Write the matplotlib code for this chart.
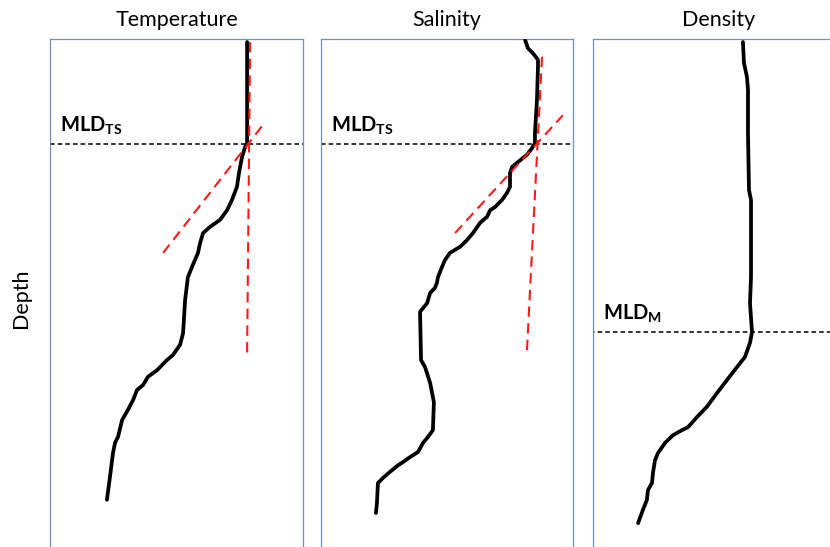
import numpy as np
from matplotlib import pyplot as plt

# profile values on a 0-100 x scale, depth on a 0-100 scale (0 = surface)
temp_x = [77.9, 77.9, 77.1, 75.9, 74.7, 73.9, 71.9, 70.0, 67.2, 63.2, 60.5,
          59.3, 58.5, 57.3, 56.1, 54.5, 53.4, 52.6, 51.4, 48.6, 46.2, 42.3,
          38.7, 36.8, 34.4, 32.8, 30.8, 28.5, 26.9, 25.7, 24.9, 23.7, 22.5]
temp_z = [0.6, 20.5, 21.3, 23.2, 26.4, 29.1, 31.7, 33.7, 35.6, 37.0, 38.2,
          40.2, 42.1, 43.5, 44.9, 46.9, 51.4, 57.9, 60.2, 62.2, 63.2, 65.2,
          66.5, 68.1, 69.1, 71.1, 73.0, 75.0, 78.3, 79.5, 81.5, 86.2, 90.7]

sal_x = [81.0, 82.1, 84.1, 86.1, 86.1, 85.7, 84.9, 84.9, 83.7, 81.7, 78.2,
         75.8, 75.0, 75.0, 73.8, 71.8, 69.0, 67.1, 65.9, 63.1, 60.3, 57.9,
         55.2, 51.2, 49.2, 48.0, 46.4, 46.0, 45.2, 43.3, 42.1, 39.3, 39.7,
         41.3, 43.3, 44.8, 44.4, 42.5, 40.5, 38.5, 35.3, 32.5, 30.6, 27.4,
         24.6, 22.6, 22.2, 21.8]
sal_z = [0.2, 1.8, 2.8, 4.1, 5.5, 12.0, 18.5, 20.5, 21.5, 22.8, 24.2,
         25.2, 26.4, 29.1, 30.3, 31.7, 33.1, 33.7, 35.0, 36.2, 38.2, 39.6,
         40.9, 42.1, 43.5, 44.9, 46.9, 48.0, 49.0, 50.0, 52.0, 53.7, 63.2,
         64.6, 67.7, 71.5, 77.0, 78.3, 79.5, 81.3, 82.3, 83.3, 83.9, 85.2,
         86.4, 87.4, 91.3, 93.3]

dens_x = [59.5, 59.9, 61.1, 61.5, 61.5, 61.9, 62.7, 62.7, 62.3, 63.1, 62.3,
          60.3, 57.1, 53.2, 49.2, 45.2, 41.3, 37.7, 35.3, 31.7, 28.6, 25.8,
          24.6, 23.8, 23.4, 21.8, 21.4, 19.8, 17.9]
dens_z = [0.6, 4.7, 7.5, 10.0, 18.5, 29.7, 31.7, 46.9, 52.0, 57.7, 59.8,
          62.6, 64.6, 67.1, 69.7, 72.4, 74.4, 76.4, 77.0, 78.0, 79.5, 81.5,
          82.9, 85.4, 87.4, 88.8, 90.7, 92.7, 95.3]

# fitted gradient lines (x0, x1), (z0, z1)
temp_fit_mixed = ([79.1, 77.9], [0.6, 62.2])
temp_fit_thermo = ([44.7, 84.2], [42.1, 16.9])
sal_fit_mixed = ([87.7, 81.7], [3.5, 61.6])
sal_fit_thermo = ([53.2, 96.0], [38.2, 15.0])

mld_ts = 20.7
mld_m = 57.7

titles = ["Temperature", "Salinity", "Density"]

plt.rcParams["font.family"] = ["Lato", "DejaVu Sans"]
plt.rcParams["mathtext.fontset"] = "custom"
plt.rcParams["mathtext.bf"] = "Lato:bold"
plt.rcParams["mathtext.rm"] = "Lato"

W, H = 830, 547
fig = plt.figure(figsize=(W / 100, H / 100), dpi=100)

# panel rectangles in pixels: left, top, width
ZMAX = 102
panels = [(50, 39, 253), (321, 39, 252), (593, 39, 252)]
axs = []
for left, top, width in panels:
    height = ZMAX * 5.08
    ax = fig.add_axes([left / W, 1 - (top + height) / H, width / W, height / H])
    ax.set_xlim(0, 100)
    ax.set_ylim(ZMAX, 0)
    ax.set_xticks([])
    ax.set_yticks([])
    for sp in ax.spines.values():
        sp.set_color("#6f8fc8")
        sp.set_linewidth(0.9)
    axs.append(ax)

for ax, title in zip(axs, titles):
    ax.set_title(title, fontsize=15.5, pad=9)

axs[0].set_ylabel("Depth", fontsize=15.5, labelpad=14)

profile_kw = dict(color="black", lw=2.7, solid_capstyle="round",
                  solid_joinstyle="round", zorder=3)
fit_kw = dict(color="#ff1a1a", lw=1.5, ls=(0, (5, 3)), zorder=4)
mld_kw = dict(color="black", lw=1.1, ls=(0, (3, 2)), zorder=2)

axs[0].plot(temp_x, temp_z, **profile_kw)
axs[0].plot(*temp_fit_mixed, **fit_kw)
axs[0].plot(*temp_fit_thermo, **fit_kw)

axs[1].plot(sal_x, sal_z, **profile_kw)
axs[1].plot(*sal_fit_mixed, **fit_kw)
axs[1].plot(*sal_fit_thermo, **fit_kw)

axs[2].plot(dens_x, dens_z, **profile_kw)

for ax in axs[:2]:
    ax.axhline(mld_ts, **mld_kw)
    ax.text(4, mld_ts - 2.4, r"$\mathbf{MLD_{TS}}$", fontsize=14.5,
            ha="left", va="baseline")
axs[2].axhline(mld_m, xmin=-0.01, **mld_kw)
axs[2].text(4, mld_m - 2.4, r"$\mathbf{MLD_{M}}$", fontsize=14.5,
            ha="left", va="baseline")

fig.savefig("out.png", dpi=100)
